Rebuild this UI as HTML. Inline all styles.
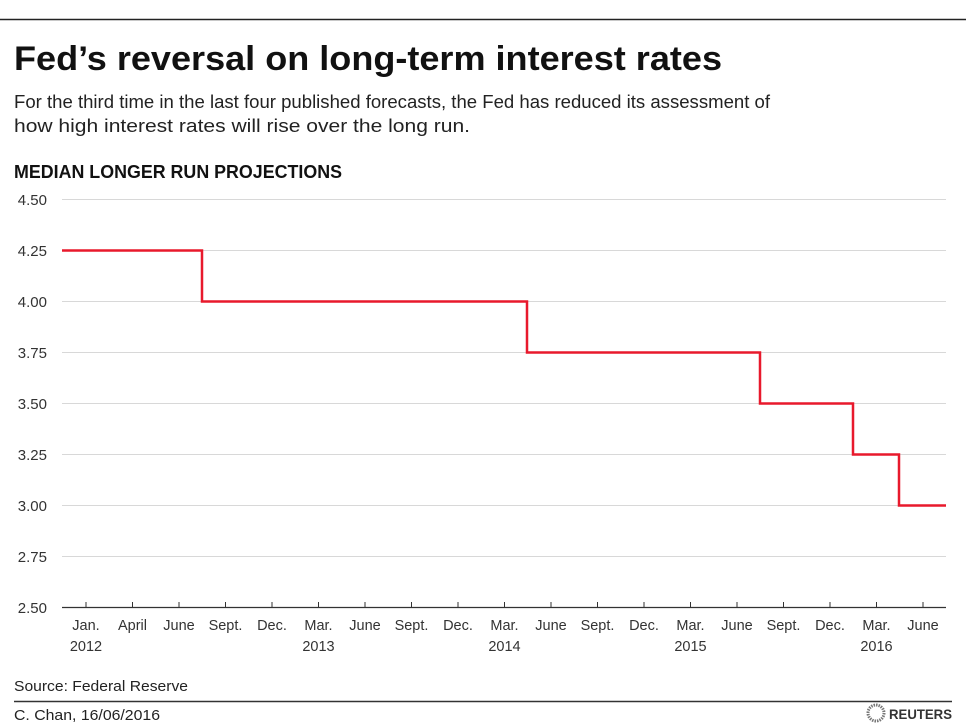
<!DOCTYPE html>
<html><head><meta charset="utf-8"><style>
html,body{margin:0;padding:0;background:#fff;}
svg{display:block;font-family:"Liberation Sans",sans-serif;}
</style></head><body>
<svg width="966" height="725" viewBox="0 0 966 725">
<line x1="0" y1="19.5" x2="966" y2="19.5" stroke="#222" stroke-width="1.5"/>
<text x="14" y="70" font-size="34" font-weight="bold" fill="#111" textLength="708" lengthAdjust="spacingAndGlyphs">Fed’s reversal on long-term interest rates</text>
<text x="14" y="108" font-size="18" fill="#222" textLength="756" lengthAdjust="spacingAndGlyphs">For the third time in the last four published forecasts, the Fed has reduced its assessment of</text>
<text x="14" y="132" font-size="18" fill="#222" textLength="456" lengthAdjust="spacingAndGlyphs">how high interest rates will rise over the long run.</text>
<text x="14" y="178" font-size="18" font-weight="bold" fill="#111" textLength="328" lengthAdjust="spacingAndGlyphs">MEDIAN LONGER RUN PROJECTIONS</text>
<g stroke="#d8d8d8" stroke-width="1">
<line x1="62" y1="199.5" x2="946" y2="199.5"/>
<line x1="62" y1="250.5" x2="946" y2="250.5"/>
<line x1="62" y1="301.5" x2="946" y2="301.5"/>
<line x1="62" y1="352.5" x2="946" y2="352.5"/>
<line x1="62" y1="403.5" x2="946" y2="403.5"/>
<line x1="62" y1="454.5" x2="946" y2="454.5"/>
<line x1="62" y1="505.5" x2="946" y2="505.5"/>
<line x1="62" y1="556.5" x2="946" y2="556.5"/>
</g>
<g font-size="15" fill="#333" text-anchor="end">
<text x="47" y="205">4.50</text><text x="47" y="256">4.25</text><text x="47" y="307">4.00</text><text x="47" y="358">3.75</text><text x="47" y="409">3.50</text><text x="47" y="460">3.25</text><text x="47" y="511">3.00</text><text x="47" y="562">2.75</text><text x="47" y="613">2.50</text>
</g>
<line x1="62" y1="607.5" x2="946" y2="607.5" stroke="#333" stroke-width="1.2"/>
<g stroke="#333" stroke-width="1">
<line x1="86" y1="602" x2="86" y2="607"/><line x1="132.5" y1="602" x2="132.5" y2="607"/><line x1="179" y1="602" x2="179" y2="607"/><line x1="225.5" y1="602" x2="225.5" y2="607"/><line x1="272" y1="602" x2="272" y2="607"/><line x1="318.5" y1="602" x2="318.5" y2="607"/><line x1="365" y1="602" x2="365" y2="607"/><line x1="411.5" y1="602" x2="411.5" y2="607"/><line x1="458" y1="602" x2="458" y2="607"/><line x1="504.5" y1="602" x2="504.5" y2="607"/><line x1="551" y1="602" x2="551" y2="607"/><line x1="597.5" y1="602" x2="597.5" y2="607"/><line x1="644" y1="602" x2="644" y2="607"/><line x1="690.5" y1="602" x2="690.5" y2="607"/><line x1="737" y1="602" x2="737" y2="607"/><line x1="783.5" y1="602" x2="783.5" y2="607"/><line x1="830" y1="602" x2="830" y2="607"/><line x1="876.5" y1="602" x2="876.5" y2="607"/><line x1="923" y1="602" x2="923" y2="607"/>
</g>
<g font-size="14.5" fill="#333" text-anchor="middle">
<text x="86" y="630">Jan.</text><text x="132.5" y="630">April</text><text x="179" y="630">June</text><text x="225.5" y="630">Sept.</text><text x="272" y="630">Dec.</text><text x="318.5" y="630">Mar.</text><text x="365" y="630">June</text><text x="411.5" y="630">Sept.</text><text x="458" y="630">Dec.</text><text x="504.5" y="630">Mar.</text><text x="551" y="630">June</text><text x="597.5" y="630">Sept.</text><text x="644" y="630">Dec.</text><text x="690.5" y="630">Mar.</text><text x="737" y="630">June</text><text x="783.5" y="630">Sept.</text><text x="830" y="630">Dec.</text><text x="876.5" y="630">Mar.</text><text x="923" y="630">June</text>
<text x="86" y="651">2012</text><text x="318.5" y="651">2013</text><text x="504.5" y="651">2014</text><text x="690.5" y="651">2015</text><text x="876.5" y="651">2016</text>
</g>
<polyline fill="none" stroke="#e8192c" stroke-width="2.5" points="62,250.5 202,250.5 202,301.5 527,301.5 527,352.5 760,352.5 760,403.5 853,403.5 853,454.5 899,454.5 899,505.5 946,505.5"/>
<text x="14" y="691" font-size="15" fill="#222" textLength="174" lengthAdjust="spacingAndGlyphs">Source: Federal Reserve</text>
<line x1="14" y1="701.5" x2="952" y2="701.5" stroke="#333" stroke-width="1.5"/>
<text x="14" y="720" font-size="15" fill="#222" textLength="146" lengthAdjust="spacingAndGlyphs">C. Chan, 16/06/2016</text>
<circle cx="876" cy="713" r="8" fill="none" stroke="#777" stroke-width="3" stroke-dasharray="1.5 1"/>
<text x="889" y="719" font-size="14" font-weight="bold" fill="#333" textLength="63" lengthAdjust="spacingAndGlyphs">REUTERS</text>
</svg>
</body></html>
